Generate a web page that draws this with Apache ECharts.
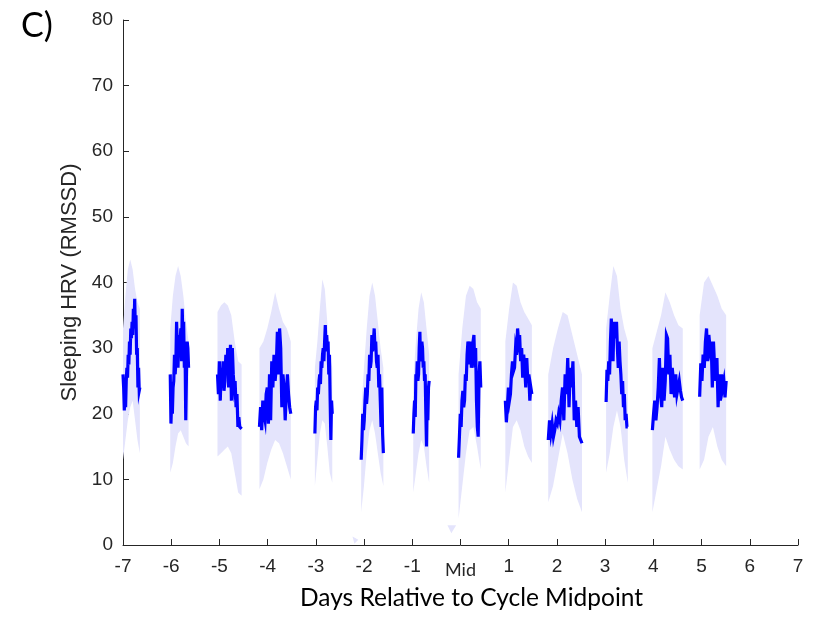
<!DOCTYPE html>
<html>
<head>
<meta charset="utf-8">
<title>Sleeping HRV around cycle midpoint</title>
<script src="https://cdn.jsdelivr.net/npm/echarts@6/dist/echarts.min.js"></script>
<style>
  html, body { margin: 0; padding: 0; background: #fff; }
  #main { width: 820px; height: 620px; }
</style>
</head>
<body>
<div id="main"></div>
<script>
// x extent (days from cycle midpoint) of each night
var nightStart = [-7.0, -6.02, -5.04, -4.17, -3.02, -2.06, -0.98, -0.04, 0.93, 1.82, 3.02, 3.98, 4.96];
var nightEnd   = [-6.65, -5.64, -4.54, -3.52, -2.66, -1.60, -0.65, 0.42, 1.48, 2.52, 3.47, 4.61, 5.51];

// mean sleeping HRV through each night (evenly spaced across the night)
var meanHRV = [
  [26, 24, 20.5, 23, 21, 25, 27, 25.5, 29, 27.5, 31, 29, 33, 31.5, 34, 32, 36, 33, 37.5, 33, 35, 29, 30, 24, 27, 23.5, 24],
  [26, 18.5, 22, 20, 24, 25, 29, 26, 28, 34, 30, 27, 32, 29, 31, 33, 28, 36, 31, 34, 27, 30, 19, 26, 31, 30, 27],
  [26, 23, 28, 22, 27, 24, 28, 23.5, 25, 29, 26, 30, 24, 27, 30.5, 22, 30, 26, 24, 25, 21, 23, 18, 19.5, 18, 18, 17.7],
  [18, 21, 17.5, 22, 20, 19, 23, 24, 18.5, 26, 19, 28, 24, 29, 25, 27, 32.5, 26, 33, 30, 21, 26, 24, 19, 23, 26, 23, 21, 20],
  [17, 21, 22, 20.5, 24, 23, 25, 26, 24.5, 28, 27, 29, 30, 28, 31, 33.5, 29.5, 32, 30, 31, 26, 29, 22, 16, 22, 20],
  [13, 16, 20, 17.5, 19, 22, 24, 21.5, 23, 26, 25, 29, 27, 28, 32, 29.5, 31, 33, 30, 31, 28, 27, 29, 24, 26, 22, 18, 24, 17, 14],
  [17, 20, 22, 19.5, 26, 25, 28, 25, 26, 30, 32.5, 28, 29, 31, 30, 27, 28, 25, 26, 20, 15, 22, 19, 24, 25],
  [13.3, 16.5, 20, 18, 22, 23.5, 21, 22, 26, 25, 29, 31, 30, 27.5, 31, 27, 30, 31, 32, 27, 30, 22, 18, 16.5, 26, 28, 24],
  [22, 18.7, 21, 24, 22, 23, 26, 28, 26.5, 27, 30, 29, 33, 31, 32, 28, 30, 25.5, 29, 27, 24, 28.5, 25, 26, 22, 24, 23],
  [16, 19, 17, 18.5, 16.5, 17.5, 19, 18.5, 20, 19, 22, 24, 19, 26, 23, 28.5, 21, 27, 24, 28, 19, 22, 18, 21, 16.5, 16, 15.5],
  [21.8, 26.7, 25, 28, 26, 31, 34.5, 30, 28, 34, 31.5, 33, 34, 30, 27, 31, 28, 26, 23, 25, 21, 23, 19, 20, 18, 18],
  [17.5, 20, 22, 19, 21, 24, 28.5, 23, 21, 27, 22, 25, 32, 31.5, 26, 29, 23, 27, 25, 22.5, 26, 23, 24, 25, 23.5, 22.5, 22],
  [22.6, 27.7, 25, 29, 27, 31, 33, 28, 32, 30, 31, 24, 31, 27, 25, 28.5, 21, 26, 22, 26, 24, 25, 22.5, 25]
];

// shaded band, upper and lower edges (evenly spaced across the night)
var upperCI = [
  [33, 38, 42, 43.5, 42, 39, 37, 36],
  [33, 38, 41, 42.5, 41, 38, 34, 31],
  [35.5, 36.5, 37, 36.5, 35, 31, 28, 27.5],
  [30, 31, 33, 35.5, 38.5, 36, 34, 33, 31],
  [27, 31, 36, 40.5, 39, 34, 29, 27],
  [20, 27, 33, 38, 40, 38, 34, 30, 27],
  [25, 31, 36, 38.5, 37, 33, 29],
  [26, 33, 38, 39.5, 39, 37, 36],
  [31, 36, 40, 39.5, 37, 35.5, 34.5, 33.5],
  [26, 30, 33, 35.5, 35, 32, 29, 26],
  [33, 38, 42.5, 41, 36, 33, 31],
  [30, 32.5, 35, 38.5, 37, 35, 33.5, 33],
  [35, 40, 41, 39.5, 38, 36, 35]
];
var lowerCI = [
  [13, 16, 19, 21, 22, 19, 16, 14],
  [11, 12.5, 15, 17, 17.5, 16.5, 15.5, 15],
  [13.5, 14, 14.5, 15, 14, 11, 8, 7.5],
  [8.5, 10, 12.5, 14.5, 16, 15.5, 14, 12, 10],
  [9, 13, 17, 19, 18.5, 15, 11, 9.5],
  [5, 9, 14, 17.5, 19, 17, 14, 11, 9],
  [8, 11, 14, 16, 15, 12, 9.5],
  [4, 9, 14, 17.5, 18, 15, 11.5],
  [8, 13, 18, 19, 17.5, 15, 13.5, 12.5],
  [6.5, 9, 13, 17, 14, 10, 7, 5],
  [11, 14, 18, 20.5, 18, 13, 9.5],
  [5, 8.5, 12, 16.5, 14.5, 13, 12, 11.5],
  [11.5, 13, 16.5, 18, 15, 13, 12]
];

// small stray pieces of the band near the x axis
var strayX = [[-0.27, -0.09, -0.19], [-2.24, -2.12, -2.2]];
var strayY = [[3, 3, 1.8], [1.3, 0.8, 0.2]];

var xTicks = [-7, 7, 1];
var yTicks = [0, 80, 10];

var lineColor = '#0000ff';
var bandColor = '#e4e4fc';
var inkColor = '#262626';

function spread(x0, x1, vals) {
  return vals.map(function (v, k) {
    return [x0 + (x1 - x0) * k / (vals.length - 1), v];
  });
}

var series = [];

series.push({
  type: 'custom',
  silent: true,
  z: 1,
  data: nightStart.map(function (x, i) { return [x, 0, i]; }),
  encode: { x: 0, y: 1 },
  renderItem: function (params, api) {
    var i = api.value(2);
    var up = spread(nightStart[i], nightEnd[i], upperCI[i]);
    var lo = spread(nightStart[i], nightEnd[i], lowerCI[i]).reverse();
    var pts = up.concat(lo).map(function (p) { return api.coord(p); });
    return { type: 'polygon', shape: { points: pts }, style: { fill: bandColor } };
  }
});

series.push({
  type: 'custom',
  silent: true,
  z: 1,
  data: strayX.map(function (xs, i) { return [xs[0], strayY[i][0], i]; }),
  encode: { x: 0, y: 1 },
  renderItem: function (params, api) {
    var i = api.value(2);
    var pts = strayX[i].map(function (x, k) { return api.coord([x, strayY[i][k]]); });
    return { type: 'polygon', shape: { points: pts }, style: { fill: bandColor } };
  }
});

meanHRV.forEach(function (vals, i) {
  series.push({
    type: 'line',
    z: 3,
    symbol: 'none',
    silent: true,
    lineStyle: { color: lineColor, width: 3.2, join: 'miter' },
    data: spread(nightStart[i], nightEnd[i], vals)
  });
});

var chart = echarts.init(document.getElementById('main'));
chart.setOption({
  animation: false,
  backgroundColor: '#fff',
  title: {
    text: 'C)',
    left: 16,
    top: 4,
    textStyle: { fontFamily: 'Lato', fontWeight: 'normal', fontSize: 34, color: '#000' }
  },
  grid: { left: 123, right: 22, top: 20, bottom: 75, containLabel: false },
  xAxis: {
    type: 'value',
    min: xTicks[0],
    max: xTicks[1],
    interval: xTicks[2],
    name: 'Days Relative to Cycle Midpoint',
    nameLocation: 'middle',
    nameGap: 41,
    nameTextStyle: { fontFamily: 'Lato', fontSize: 24.5, color: '#000', padding: [0, 0, 0, 22] },
    axisLine: { onZero: false, lineStyle: { color: inkColor, width: 1 } },
    axisTick: { inside: true, length: 6, lineStyle: { color: inkColor } },
    splitLine: { show: false },
    axisLabel: {
      margin: 12,
      fontFamily: 'Liberation Sans',
      fontSize: 19,
      color: inkColor,
      formatter: function (v) { return v === 0 ? '{mid|Mid}' : String(v); },
      rich: { mid: { fontFamily: 'Lato', fontSize: 18, color: inkColor, padding: [4, 0, 0, 0] } }
    }
  },
  yAxis: {
    type: 'value',
    min: yTicks[0],
    max: yTicks[1],
    interval: yTicks[2],
    name: 'Sleeping HRV (RMSSD)',
    nameLocation: 'middle',
    nameGap: 39,
    nameTextStyle: { fontFamily: 'Liberation Sans', fontSize: 22, color: inkColor },
    axisLine: { show: true, onZero: false, lineStyle: { color: inkColor, width: 1 } },
    axisTick: { show: true, inside: true, length: 6, lineStyle: { color: inkColor } },
    splitLine: { show: false },
    axisLabel: { margin: 10, fontFamily: 'Liberation Sans', fontSize: 19, color: inkColor }
  },
  series: series
});
</script>
</body>
</html>
